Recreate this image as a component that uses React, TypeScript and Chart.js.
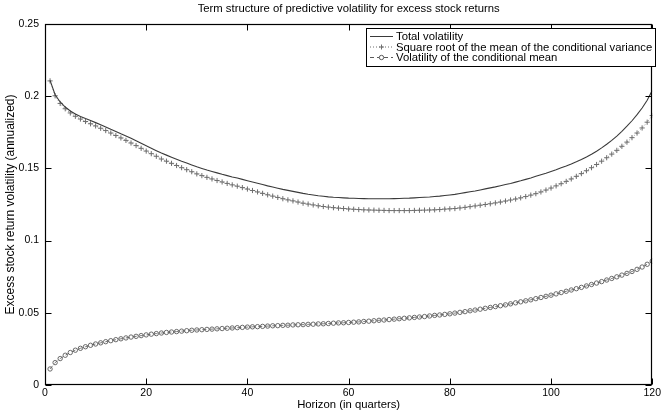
import React, { useEffect, useRef } from 'react';
import { Chart, registerables } from 'chart.js';

Chart.register(...registerables);

// Forecast horizon, in quarters
const horizons: number[] = Array.from({ length: 120 }, (_, i) => i + 1);

// Total predictive volatility (annualized)
const totalVolatility: number[] = [
  0.2110, 0.2010, 0.1960, 0.1925, 0.1898, 0.1877, 0.1860, 0.1845, 0.1831, 0.1817,
  0.1802, 0.1787, 0.1771, 0.1756, 0.1740, 0.1725, 0.1708, 0.1691, 0.1674, 0.1657,
  0.1640, 0.1623, 0.1606, 0.1592, 0.1578, 0.1564, 0.1550, 0.1537, 0.1524, 0.1511,
  0.1500, 0.1489, 0.1479, 0.1469, 0.1459, 0.1450, 0.1441, 0.1433, 0.1424, 0.1415,
  0.1406, 0.1397, 0.1388, 0.1379, 0.1371, 0.1363, 0.1355, 0.1348, 0.1341, 0.1334,
  0.1327, 0.1321, 0.1316, 0.1311, 0.1307, 0.1303, 0.1300, 0.1298, 0.1296, 0.1294,
  0.1293, 0.1292, 0.1291, 0.1290, 0.1290, 0.1290, 0.1290, 0.1290, 0.1291, 0.1292,
  0.1293, 0.1294, 0.1296, 0.1298, 0.1300, 0.1302, 0.1305, 0.1308, 0.1312, 0.1316,
  0.1320, 0.1326, 0.1332, 0.1338, 0.1344, 0.1351, 0.1358, 0.1365, 0.1372, 0.1380,
  0.1388, 0.1396, 0.1405, 0.1414, 0.1424, 0.1434, 0.1445, 0.1456, 0.1467, 0.1479,
  0.1491, 0.1504, 0.1517, 0.1531, 0.1546, 0.1562, 0.1579, 0.1598, 0.1619, 0.1642,
  0.1667, 0.1694, 0.1724, 0.1757, 0.1792, 0.1830, 0.1872, 0.1918, 0.1972, 0.2040,
];

// Square root of the mean of the conditional variance
const sqrtMeanCondVariance: number[] = [
  0.2106, 0.2003, 0.1950, 0.1913, 0.1884, 0.1861, 0.1842, 0.1825, 0.1809, 0.1794,
  0.1778, 0.1762, 0.1745, 0.1728, 0.1711, 0.1694, 0.1676, 0.1658, 0.1639, 0.1620,
  0.1602, 0.1584, 0.1565, 0.1550, 0.1535, 0.1520, 0.1505, 0.1491, 0.1477, 0.1462,
  0.1450, 0.1438, 0.1427, 0.1416, 0.1406, 0.1396, 0.1386, 0.1377, 0.1367, 0.1357,
  0.1347, 0.1337, 0.1327, 0.1317, 0.1308, 0.1299, 0.1290, 0.1282, 0.1275, 0.1267,
  0.1259, 0.1253, 0.1247, 0.1241, 0.1236, 0.1232, 0.1228, 0.1225, 0.1222, 0.1219,
  0.1217, 0.1215, 0.1213, 0.1212, 0.1211, 0.1210, 0.1209, 0.1208, 0.1208, 0.1208,
  0.1208, 0.1208, 0.1209, 0.1210, 0.1211, 0.1212, 0.1213, 0.1215, 0.1218, 0.1220,
  0.1222, 0.1226, 0.1230, 0.1235, 0.1240, 0.1245, 0.1250, 0.1255, 0.1261, 0.1267,
  0.1274, 0.1281, 0.1288, 0.1296, 0.1305, 0.1315, 0.1325, 0.1337, 0.1350, 0.1364,
  0.1379, 0.1394, 0.1410, 0.1427, 0.1445, 0.1464, 0.1484, 0.1505, 0.1527, 0.1550,
  0.1574, 0.1599, 0.1625, 0.1653, 0.1682, 0.1713, 0.1745, 0.1780, 0.1820, 0.1866,
];

// Volatility of the conditional mean
const condMeanVolatility: number[] = [
  0.0111, 0.0155, 0.0183, 0.0206, 0.0225, 0.0241, 0.0254, 0.0265, 0.0275, 0.0284,
  0.0292, 0.0300, 0.0307, 0.0314, 0.0320, 0.0326, 0.0332, 0.0337, 0.0342, 0.0347,
  0.0352, 0.0356, 0.0360, 0.0364, 0.0367, 0.0370, 0.0373, 0.0376, 0.0379, 0.0381,
  0.0383, 0.0385, 0.0387, 0.0389, 0.0391, 0.0393, 0.0395, 0.0397, 0.0399, 0.0401,
  0.0403, 0.0404, 0.0406, 0.0408, 0.0410, 0.0411, 0.0413, 0.0414, 0.0416, 0.0417,
  0.0418, 0.0420, 0.0421, 0.0423, 0.0424, 0.0426, 0.0428, 0.0430, 0.0431, 0.0433,
  0.0435, 0.0437, 0.0440, 0.0442, 0.0445, 0.0448, 0.0450, 0.0453, 0.0456, 0.0459,
  0.0462, 0.0465, 0.0468, 0.0471, 0.0474, 0.0478, 0.0482, 0.0485, 0.0489, 0.0493,
  0.0498, 0.0503, 0.0508, 0.0514, 0.0519, 0.0525, 0.0531, 0.0537, 0.0543, 0.0549,
  0.0555, 0.0562, 0.0569, 0.0576, 0.0583, 0.0590, 0.0598, 0.0606, 0.0614, 0.0622,
  0.0631, 0.0640, 0.0649, 0.0658, 0.0667, 0.0676, 0.0686, 0.0696, 0.0706, 0.0716,
  0.0727, 0.0738, 0.0749, 0.0761, 0.0773, 0.0786, 0.0801, 0.0817, 0.0836, 0.0858,
];

const xTickValues: number[] = [0, 20, 40, 60, 80, 100, 120];
const yTickValues: number[] = [0, 0.05, 0.1, 0.15, 0.2, 0.25];
const yTickLabels: string[] = ['0', '0.05', '0.1', '0.15', '0.2', '0.25'];

const seriesNames: string[] = [
  'Total volatility',
  'Square root of the mean of the conditional variance',
  'Volatility of the conditional mean',
];

const chartTitle = 'Term structure of predictive volatility for excess stock returns';
const xAxisTitle = 'Horizon (in quarters)';
const yAxisTitle = 'Excess stock return volatility (annualized)';

const FONT = '"Liberation Sans", Arial, Helvetica, sans-serif';
const TICK_SIZE = 10.5;
const LABEL_SIZE = 11.3;
const YLABEL_SIZE = 12;

const COLOR_TOTAL = '#3a3a3a';
const COLOR_VAR = '#6e6e6e';
const COLOR_MEAN = '#5a5a5a';

// Box, inward ticks on all four sides, title and legend, drawn in MATLAB style
const framePlugin = {
  id: 'matlabFrame',
  afterDatasetsDraw(chart: any) {
    const { ctx, chartArea: a, scales } = chart;
    const xs = scales.x;
    const ys = scales.y;
    const L = Math.round(a.left) + 0.5;
    const R = Math.round(a.right) - 0.5;
    const T = Math.round(a.top) + 0.5;
    const B = Math.round(a.bottom) - 0.5;
    const tick = 6;

    ctx.save();
    ctx.strokeStyle = '#000';
    ctx.lineWidth = 1.2;
    ctx.strokeRect(L, T, R - L, B - T);

    ctx.lineWidth = 1;
    ctx.beginPath();
    xTickValues.forEach((v) => {
      const px = Math.round(xs.getPixelForValue(v)) + 0.5;
      ctx.moveTo(px, B);
      ctx.lineTo(px, B - tick);
      ctx.moveTo(px, T);
      ctx.lineTo(px, T + tick);
    });
    yTickValues.forEach((v) => {
      const py = Math.round(ys.getPixelForValue(v)) + 0.5;
      ctx.moveTo(L, py);
      ctx.lineTo(L + tick, py);
      ctx.moveTo(R, py);
      ctx.lineTo(R - tick, py);
    });
    ctx.stroke();

    // title
    ctx.fillStyle = '#000';
    ctx.font = `${LABEL_SIZE}px ${FONT}`;
    ctx.textAlign = 'center';
    ctx.textBaseline = 'middle';
    ctx.fillText(chartTitle, (a.left + a.right) / 2, 9);

    // legend
    const boxL = 366.5;
    const boxR = 655.5;
    const boxT = 28.5;
    const boxB = 66.5;
    ctx.fillStyle = '#fff';
    ctx.fillRect(boxL, boxT, boxR - boxL, boxB - boxT);
    ctx.strokeStyle = '#000';
    ctx.lineWidth = 1;
    ctx.strokeRect(boxL, boxT, boxR - boxL, boxB - boxT);

    const rows = [36.5, 47, 57.5];
    const sx0 = 370;
    const sx1 = 393;
    const sxm = (sx0 + sx1) / 2;

    // row 1: solid line
    ctx.strokeStyle = COLOR_TOTAL;
    ctx.beginPath();
    ctx.moveTo(sx0, rows[0]);
    ctx.lineTo(sx1, rows[0]);
    ctx.stroke();

    // row 2: dotted line with plus marker
    ctx.strokeStyle = COLOR_VAR;
    ctx.setLineDash([1, 2]);
    ctx.beginPath();
    ctx.moveTo(sx0, rows[1]);
    ctx.lineTo(sx1, rows[1]);
    ctx.stroke();
    ctx.setLineDash([]);
    ctx.beginPath();
    ctx.moveTo(sxm - 2.5, rows[1]);
    ctx.lineTo(sxm + 2.5, rows[1]);
    ctx.moveTo(sxm, rows[1] - 2.5);
    ctx.lineTo(sxm, rows[1] + 2.5);
    ctx.stroke();

    // row 3: dashed line with circle marker
    ctx.strokeStyle = COLOR_MEAN;
    ctx.setLineDash([4, 3]);
    ctx.beginPath();
    ctx.moveTo(sx0, rows[2]);
    ctx.lineTo(sx1, rows[2]);
    ctx.stroke();
    ctx.setLineDash([]);
    ctx.fillStyle = '#fff';
    ctx.beginPath();
    ctx.arc(sxm, rows[2], 2.2, 0, Math.PI * 2);
    ctx.fill();
    ctx.stroke();

    ctx.fillStyle = '#000';
    ctx.textAlign = 'left';
    ctx.textBaseline = 'middle';
    seriesNames.forEach((name, i) => ctx.fillText(name, 396, rows[i] + 0.5));

    ctx.restore();
  },
};

export default function App() {
  const canvasRef = useRef<HTMLCanvasElement | null>(null);

  useEffect(() => {
    const canvas = canvasRef.current;
    if (!canvas) return;

    const tickFont = { family: FONT, size: TICK_SIZE };

    const chart = new Chart(canvas, {
      type: 'line',
      data: {
        labels: horizons,
        datasets: [
          {
            label: seriesNames[0],
            data: totalVolatility,
            borderColor: COLOR_TOTAL,
            borderWidth: 1.1,
            pointRadius: 0,
            tension: 0,
          },
          {
            label: seriesNames[1],
            data: sqrtMeanCondVariance,
            borderColor: COLOR_VAR,
            borderWidth: 0.8,
            borderDash: [1, 2],
            pointStyle: 'cross',
            pointRadius: 2.6,
            pointBorderWidth: 1,
            pointBorderColor: COLOR_VAR,
            pointBackgroundColor: COLOR_VAR,
            tension: 0,
          },
          {
            label: seriesNames[2],
            data: condMeanVolatility,
            borderColor: COLOR_MEAN,
            borderWidth: 0.8,
            borderDash: [4, 3],
            pointStyle: 'circle',
            pointRadius: 2.2,
            pointBorderWidth: 0.9,
            pointBorderColor: COLOR_MEAN,
            pointBackgroundColor: 'rgba(255,255,255,0)',
            tension: 0,
          },
        ],
      },
      options: {
        responsive: false,
        animation: false,
        devicePixelRatio: 1,
        layout: { autoPadding: false, padding: { left: 0, right: 6, top: 24, bottom: 0 } },
        plugins: {
          legend: { display: false },
          title: { display: false },
          tooltip: { enabled: false },
        },
        scales: {
          x: {
            type: 'linear',
            min: 0,
            max: 120,
            afterBuildTicks: (scale: any) => {
              scale.ticks = xTickValues.map((v) => ({ value: v }));
            },
            afterFit: (scale: any) => {
              scale.height = 28;
            },
            ticks: {
              font: tickFont,
              color: '#000',
              padding: 2,
              maxRotation: 0,
              autoSkip: false,
              callback: (v: any) => String(v),
            },
            grid: { display: false, drawTicks: false },
            border: { display: false },
            title: {
              display: true,
              text: xAxisTitle,
              font: { family: FONT, size: LABEL_SIZE },
              color: '#000',
              padding: { top: 0, bottom: 1 },
            },
          },
          y: {
            min: 0,
            max: 0.25,
            afterBuildTicks: (scale: any) => {
              scale.ticks = yTickValues.map((v) => ({ value: v }));
            },
            afterFit: (scale: any) => {
              scale.width = 45;
            },
            ticks: {
              font: tickFont,
              color: '#000',
              padding: 6,
              autoSkip: false,
              callback: (_v: any, i: number) => yTickLabels[i],
            },
            grid: { display: false, drawTicks: false },
            border: { display: false },
            title: {
              display: true,
              text: yAxisTitle,
              font: { family: FONT, size: YLABEL_SIZE },
              color: '#000',
              padding: { top: 3, bottom: 0 },
            },
          },
        },
      },
      plugins: [framePlugin],
    });

    return () => chart.destroy();
  }, []);

  return (
    <div style={{ position: 'fixed', left: 0, top: 0, width: 663, height: 413, background: '#fff' }}>
      <canvas ref={canvasRef} width={663} height={413} style={{ display: 'block' }} />
    </div>
  );
}
